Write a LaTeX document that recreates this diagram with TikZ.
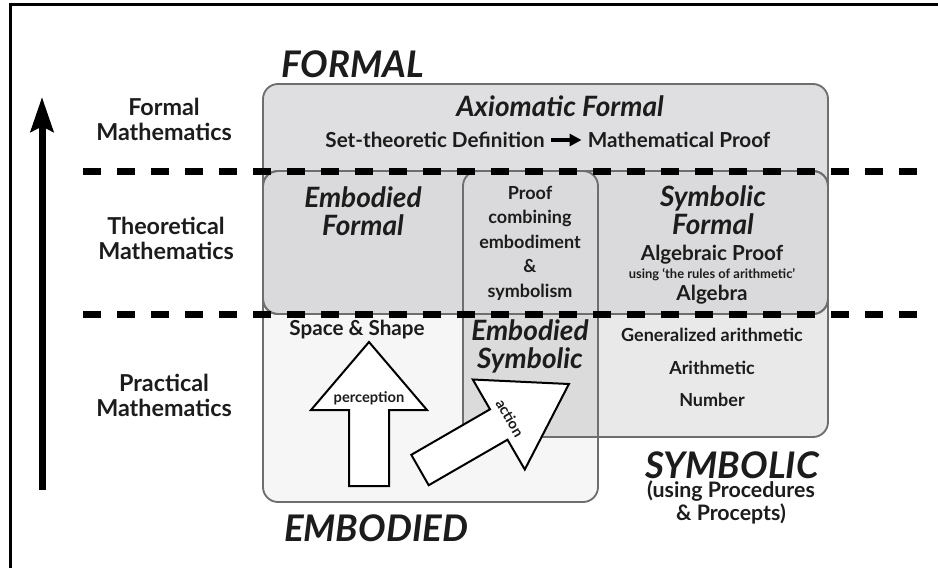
\documentclass[tikz,border=0pt]{standalone}
\usepackage{fontspec}
\setmainfont{Lato}
\usetikzlibrary{arrows.meta}
\definecolor{ink}{HTML}{1C1C1C}
\definecolor{edge}{HTML}{6E6E6E}
\definecolor{formalfill}{HTML}{DFDFE1}
\definecolor{bandfill}{HTML}{DADADC}
\definecolor{embfill}{HTML}{F6F6F6}
\definecolor{symfill}{HTML}{E9E9EA}
\definecolor{interfill}{HTML}{DBDBDC}
\tikzset{
  lvl/.style={font=\fontsize{17.5}{18.75}\selectfont\bfseries, align=center, inner sep=0pt, text=ink},
  ttl/.style={font=\fontsize{21}{21}\selectfont\bfseries\itshape, align=center, inner sep=0pt, text=ink},
  world/.style={font=\fontsize{27.5}{28}\selectfont\bfseries\itshape, inner sep=0pt, text=ink},
  body/.style={font=\fontsize{13.5}{18.4}\selectfont\bfseries, align=center, inner sep=0pt, text=ink},
  bodylg/.style={font=\fontsize{15.5}{18.4}\selectfont\bfseries, align=center, inner sep=0pt, text=ink},
  sub/.style={font=\fontsize{16}{17.25}\selectfont\bfseries, align=center, inner sep=0pt, text=ink},
  tinytxt/.style={font=\fontsize{9.7}{11}\selectfont\bfseries, inner sep=0pt, text=ink},
  arrtxt/.style={font=\fontsize{11}{13}\selectfont\bfseries, inner sep=0pt, text=ink},
  boxline/.style={draw=edge, line width=1.4pt, rounded corners=11.25pt},
  levelline/.style={line width=5.25pt, dash pattern=on 13.5pt off 12pt},
  blockarrow/.style={draw=black, fill=white, line width=1.5pt, line join=miter},
  thickarrow/.style={line width=3pt, -{Triangle[length=9pt,width=9pt]}, shorten <=4.5pt, shorten >=4.5pt},
}
\begin{document}
\begin{tikzpicture}[x=0.75pt,y=-0.75pt]
\useasboundingbox (0,0) rectangle (938,568);
% frame
\draw[line width=2.25pt] (10,568) -- (10,4.5) -- (938,4.5);
% fills
\fill[embfill, rounded corners=11.25pt] (263,171) rectangle (598,502);
\fill[symfill, rounded corners=11.25pt] (463,171) rectangle (828,437);
\begin{scope}
  \clip[rounded corners=11.25pt] (263,171) rectangle (598,502);
  \fill[interfill, rounded corners=11.25pt] (463,171) rectangle (828,437);
\end{scope}
\fill[formalfill, rounded corners=11.25pt] (263,84) rectangle (828,314);
\fill[bandfill, rounded corners=11.25pt] (263,171) rectangle (828,314);
% outlines
\draw[boxline] (263,84) rectangle (828,314);
\draw[boxline] (263,171) rectangle (598,502);
\draw[boxline] (463,171) rectangle (828,437);
\draw[boxline] (263,171) rectangle (828,314);
% level lines
\draw[levelline] (83,171) -- (918,171);
\draw[levelline] (83,314) -- (918,314);
% vertical arrow
\coordinate (axbot) at (42,490);
\coordinate (axtop) at (42,97);
\draw[line width=5.25pt, -{Stealth[length=26pt,width=17pt,inset=4pt]}] (axbot) -- (axtop);
% block arrows
\draw[blockarrow] (349,486) -- (349,410) -- (311,410) -- (369,342) -- (427,410) -- (389,410) -- (389,486) -- cycle;
\draw[blockarrow] (411.3,454.8) -- (490,409.3) -- (472.8,379.5) -- (568.9,384) -- (524.8,469.5) -- (507.5,439.7) -- (428.7,485.2) -- cycle;
% world labels
\node[world] (formalW) at (353,64) {FORMAL};
\node[world] (embW) at (376,528) {EMBODIED};
\node[world] (symW) at (732,465) {SYMBOLIC};
\node[sub] (symsub) at (731,502) {(using Procedures\\\& Procepts)};
% level labels
\node[lvl] (lvF) at (164,119.5) {Formal\\Mathematics};
\node[lvl] (lvT) at (166,238) {Theoretical\\Mathematics};
\node[lvl] (lvP) at (164,395) {Practical\\Mathematics};
% formal
\node[ttl] (axf) at (560,106) {Axiomatic Formal};
\node[bodylg] (setdef) at (435,140) {Set-theoretic Definition};
\node[bodylg] (mproof) at (679,140) {Mathematical Proof};
\draw[thickarrow] (setdef) -- (mproof);
% theoretical
\node[ttl, font=\fontsize{21}{21}\selectfont\bfseries\itshape] (embf) at (363,211) {Embodied\\Formal};
\node[body] (proofc) at (530,243) {Proof\\combining\\embodiment\\\&\\symbolism};
\node[ttl] (symf) at (713,210.5) {Symbolic\\Formal};
\node[bodylg] (algp) at (712,255) {Algebraic Proof};
\node[tinytxt] (rules) at (712,275) {using ‘the rules of arithmetic’};
\node[bodylg] (alg) at (712,295) {Algebra};
% practical
\node[bodylg] (space) at (357,330) {Space \& Shape};
\node[ttl] (embs) at (530,346.5) {Embodied\\Symbolic};
\node[body] (genar) at (712,335) {Generalized arithmetic};
\node[body] (arith) at (712,368) {Arithmetic};
\node[body] (numb) at (712,400) {Number};
\node[arrtxt] (perc) at (369,398) {perception};
\node[arrtxt, rotate=-60] (act) at (510,418) {action};
\end{tikzpicture}
\end{document}
